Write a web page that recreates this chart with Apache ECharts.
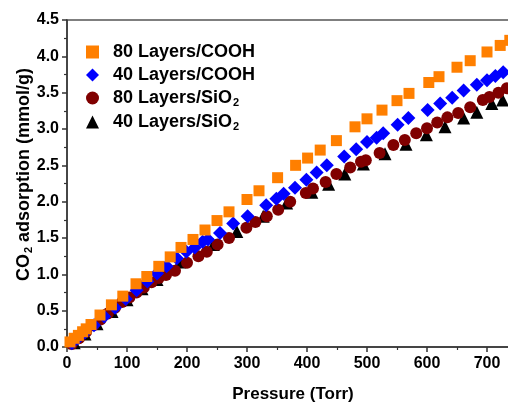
<!DOCTYPE html>
<html>
<head>
<meta charset="utf-8">
<script src="https://cdn.jsdelivr.net/npm/echarts@6/dist/echarts.min.js"></script>
<style>
  html, body { margin: 0; padding: 0; background: #fff; }
  #chart { width: 508px; height: 403px; }
</style>
</head>
<body>
<div id="chart"></div>
<script>
// 80 Layers/COOH
const p80Cooh = [5, 12, 19, 26, 32, 40, 55, 74, 93, 115, 133, 153, 172, 190, 210, 230, 250, 270, 300, 320,
  351, 381, 401, 422, 449, 480, 500, 525, 550, 570, 603, 620, 650, 672, 700, 722, 738];
const q80Cooh = [0.07, 0.12, 0.16, 0.21, 0.25, 0.31, 0.44, 0.58, 0.70, 0.87, 0.97, 1.11, 1.24, 1.37, 1.48, 1.61, 1.74, 1.86, 2.03, 2.15,
  2.33, 2.50, 2.60, 2.71, 2.84, 3.03, 3.14, 3.26, 3.39, 3.49, 3.64, 3.72, 3.85, 3.94, 4.06, 4.15, 4.22];

// 40 Layers/COOH
const p40Cooh = [8, 18, 30, 45, 62, 80, 98, 116, 134, 150, 166, 183, 199, 213, 226, 235, 255, 277, 301, 332,
  349, 361, 380, 399, 416, 433, 462, 482, 500, 516, 527, 551, 569, 601, 622, 642, 661, 683, 700, 714, 727];
const q40Cooh = [0.05, 0.12, 0.20, 0.30, 0.42, 0.54, 0.66, 0.78, 0.90, 1.01, 1.11, 1.22, 1.31, 1.37, 1.45, 1.48, 1.57, 1.70, 1.80, 1.95,
  2.04, 2.11, 2.19, 2.30, 2.40, 2.50, 2.62, 2.72, 2.82, 2.88, 2.94, 3.06, 3.15, 3.26, 3.35, 3.43, 3.53, 3.61, 3.67, 3.73, 3.78];

// 80 Layers/SiO2
const p80Sio = [8, 20, 32, 44, 56, 68, 80, 92, 104, 116, 128, 141, 153, 165, 180, 200, 219, 233, 251, 270,
  299, 314, 333, 352, 372, 398, 410, 431, 449, 472, 490, 498, 521, 544, 563, 582, 600, 617, 634, 652,
  672, 693, 704, 719, 733];
const q80Sio = [0.04, 0.12, 0.21, 0.30, 0.38, 0.46, 0.54, 0.62, 0.68, 0.75, 0.82, 0.89, 0.95, 0.99, 1.05, 1.16, 1.25, 1.31, 1.41, 1.50,
  1.64, 1.72, 1.80, 1.89, 2.00, 2.12, 2.18, 2.27, 2.38, 2.47, 2.55, 2.57, 2.67, 2.78, 2.85, 2.94, 3.01, 3.09, 3.16, 3.22,
  3.30, 3.40, 3.44, 3.50, 3.56];

// 40 Layers/SiO2
const p40Sio = [12, 30, 50, 75, 100, 125, 150, 188, 244, 283, 327, 366, 408, 436, 463, 494, 530, 565, 599, 630,
  661, 683, 708, 726];
const q40Sio = [0.06, 0.18, 0.32, 0.49, 0.65, 0.80, 0.93, 1.17, 1.41, 1.59, 1.80, 1.98, 2.13, 2.24, 2.38, 2.52, 2.66, 2.79, 2.92, 3.03,
  3.15, 3.23, 3.35, 3.40];

const legendOrder = ["80 Layers/COOH", "40 Layers/COOH", "80 Layers/SiO2", "40 Layers/SiO2"];

const pairs = (xs, ys) => xs.map((x, i) => [x, ys[i]]);

const chart = echarts.init(document.getElementById("chart"), null, { renderer: "canvas" });

const axisFont = { fontFamily: "Liberation Sans, Arial", fontWeight: "bold", fontSize: 16, color: "#000" };

const option = {
  animation: false,
  backgroundColor: "#fff",
  grid: {
    left: 67, top: 20, right: -3, bottom: 56,
    outerBoundsMode: "none",
    containLabel: false,
    show: true, borderColor: "#555", borderWidth: 1.5,
  },
  legend: {
    data: legendOrder,
    orient: "vertical",
    left: 81,
    top: 38,
    itemWidth: 13,
    itemHeight: 13,
    itemGap: 5,
    formatter: (name) => name.endsWith("SiO2") ? "{t|" + name.slice(0, -1) + "}{s|2}" : "{t|" + name + "}",
    textStyle: {
      padding: [0, 0, 0, 9],
      rich: {
        t: { fontFamily: "Liberation Sans, Arial", fontWeight: "bold", fontSize: 18, color: "#000" },
        s: { fontFamily: "Liberation Sans, Arial", fontWeight: "bold", fontSize: 11, color: "#000", padding: [9, 0, 0, 1] },
      },
    },
  },
  xAxis: {
    type: "value",
    min: 0, max: 740, interval: 100,
    name: "Pressure (Torr)",
    nameLocation: "middle",
    nameGap: 39,
    nameMoveOverlap: false,
    nameTextStyle: { fontFamily: "Liberation Sans, Arial", fontWeight: "bold", fontSize: 17, color: "#000", padding: [0, 0, 0, 8] },
    axisLine: { onZero: false, lineStyle: { color: "#333", width: 1.5 } },
    axisTick: { inside: false, length: 5, lineStyle: { color: "#333", width: 1.5 } },
    minorTick: { show: true, splitNumber: 2, length: 3, lineStyle: { color: "#333", width: 1.2 } },
    axisLabel: Object.assign({ margin: 9, showMaxLabel: false,
      formatter: (v) => (v % 100 === 0 ? String(v) : "") }, axisFont),
    splitLine: { show: false },
  },
  yAxis: {
    type: "value",
    min: 0, max: 4.5, interval: 0.5,
    name: "CO{s|2} adsorption (mmol/g)",
    nameLocation: "middle",
    nameRotate: 90,
    nameGap: 33,
    nameMoveOverlap: false,
    nameTextStyle: {
      fontFamily: "Liberation Sans, Arial", fontWeight: "bold", fontSize: 18, color: "#000",
      padding: [0, 0, 0, 18],
      rich: {
        s: { fontFamily: "Liberation Sans, Arial", fontWeight: "bold", fontSize: 11, color: "#000", padding: [9, 0, 0, 1] },
      },
    },
    axisLine: { show: true, onZero: false, lineStyle: { color: "#333", width: 1.5 } },
    axisTick: { show: true, inside: false, length: 5, lineStyle: { color: "#333", width: 1.5 } },
    minorTick: { show: true, splitNumber: 2, length: 3, lineStyle: { color: "#333", width: 1.2 } },
    axisLabel: Object.assign({ margin: 8, formatter: (v) => v.toFixed(1) }, axisFont),
    splitLine: { show: false },
  },
  series: [
    {
      name: "40 Layers/SiO2", type: "scatter", symbol: "triangle", symbolSize: 13,
      itemStyle: { color: "#000", opacity: 1 }, data: pairs(p40Sio, q40Sio),
    },
    {
      name: "80 Layers/SiO2", type: "scatter", symbol: "circle", symbolSize: 12,
      itemStyle: { color: "#800000", opacity: 1 }, data: pairs(p80Sio, q80Sio),
    },
    {
      name: "40 Layers/COOH", type: "scatter", symbol: "diamond", symbolSize: 14,
      itemStyle: { color: "#0000ff", opacity: 1 }, data: pairs(p40Cooh, q40Cooh),
    },
    {
      name: "80 Layers/COOH", type: "scatter", symbol: "rect", symbolSize: 11,
      itemStyle: { color: "#ff7f00", opacity: 1 }, data: pairs(p80Cooh, q80Cooh),
    },
  ],
};

chart.setOption(option);
</script>
</body>
</html>
